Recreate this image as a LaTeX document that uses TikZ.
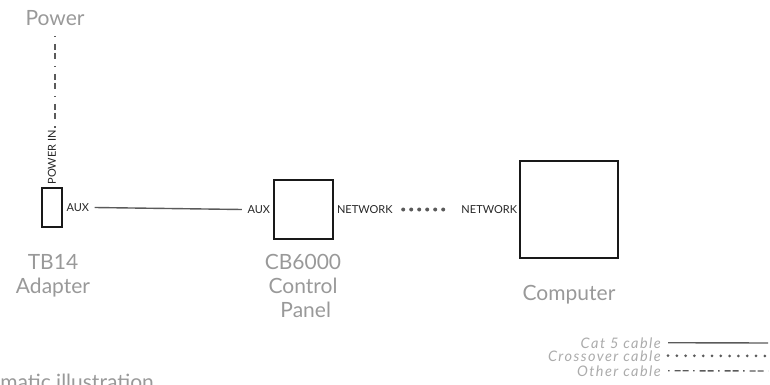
\documentclass[tikz,border=0pt]{standalone}
\usepackage{fontspec}
\setmainfont{Lato}
\usetikzlibrary{positioning}
\definecolor{labelgray}{HTML}{999999}
\definecolor{cablegray}{HTML}{5A5A5A}
\definecolor{legendgray}{HTML}{ABABAB}
\tikzset{
  device/.style={draw=black!90,line width=1.6pt,inner sep=0pt},
  port/.style={font=\fontsize{11}{12}\selectfont,text=black!85,inner sep=1.5pt},
  caption/.style={font=\fontsize{21}{24}\selectfont,text=labelgray,align=center,inner sep=0pt},
  legend/.style={font=\fontsize{14.5}{16}\selectfont\itshape\addfontfeature{LetterSpace=10},text=legendgray,inner sep=0pt},
  cat5/.style={draw=cablegray,line width=1.4pt},
  crossover/.style={draw=cablegray,line width=4pt,line cap=round,dash pattern=on 0pt off 8pt},
  othercable/.style={draw=cablegray,line width=1.7pt,dash pattern=on 1.5pt off 6.5pt on 6pt off 3pt on 6pt off 7pt},
}
\begin{document}
\begin{tikzpicture}[x=1pt,y=-1pt]
  \useasboundingbox (0,0) rectangle (770,385);
  % devices
  \begin{scope}[every node/.style={device}]
    \node[minimum width=20pt,minimum height=39pt] (tb) at (52,207.5) {};
    \node[minimum width=59pt,minimum height=59pt] (cb) at (303.5,209.5) {};
    \node[minimum width=98pt,minimum height=97pt] (pc) at (569,209.5) {};
  \end{scope}
  % ports
  \node[port,right=2pt of tb] (tbaux) {AUX};
  \node[port,left=1.5pt of cb] (cbaux) {AUX};
  \node[port,right=1.5pt of cb] (cbnet) {NETWORK};
  \node[port,left=0.5pt of pc] (pcnet) {NETWORK};
  \node[port,rotate=90,anchor=west] (tbpow) at ([yshift=1pt]tb.north) {POWER IN};
  % names
  \node[caption,anchor=base] (power) at (55,26) {Power};
  \node[caption,anchor=north] (tbname) at (53,254) {TB14\\Adapter};
  \node[caption,anchor=north] (cbname) at (303,254) {CB6000\\Control\\\ Panel};
  \node[caption,anchor=north] (pcname) at (569,285) {Computer};
  \node[caption,anchor=base east] (note) at (154,389) {Schematic illustration};
  % cables
  \path[othercable] ([yshift=-10pt]power.base) -- ([xshift=3pt]tbpow.east);
  \path[cat5] ([xshift=4pt]tbaux.east) -- ([xshift=-4pt]cbaux.west);
  \path[crossover] ([xshift=9pt]cbnet.east) -- ([xshift=-10pt]pcnet.west);
  % legend
  \node[legend,anchor=base east] (cat5txt) at (661,348) {Cat 5 cable};
  \node[legend,anchor=base east] (crosstxt) at (661,361) {Crossover cable};
  \node[legend,anchor=base east] (othertxt) at (661,376) {Other cable};
  \coordinate (cat5end) at (768,343);
  \coordinate (crossend) at (768,356);
  \coordinate (otherend) at (768,371);
  \path[cat5] ([xshift=7pt]cat5txt.east) -- (cat5end);
  \path[crossover,line width=3pt,dash pattern=on 0pt off 8.8pt] ([xshift=7pt]crosstxt.east) -- (crossend);
  \path[othercable,line width=1.4pt,dash pattern=on 1.5pt off 5pt on 6pt off 2pt on 6pt off 4.5pt] ([xshift=7pt]othertxt.east) -- (otherend);
\end{tikzpicture}
\end{document}
